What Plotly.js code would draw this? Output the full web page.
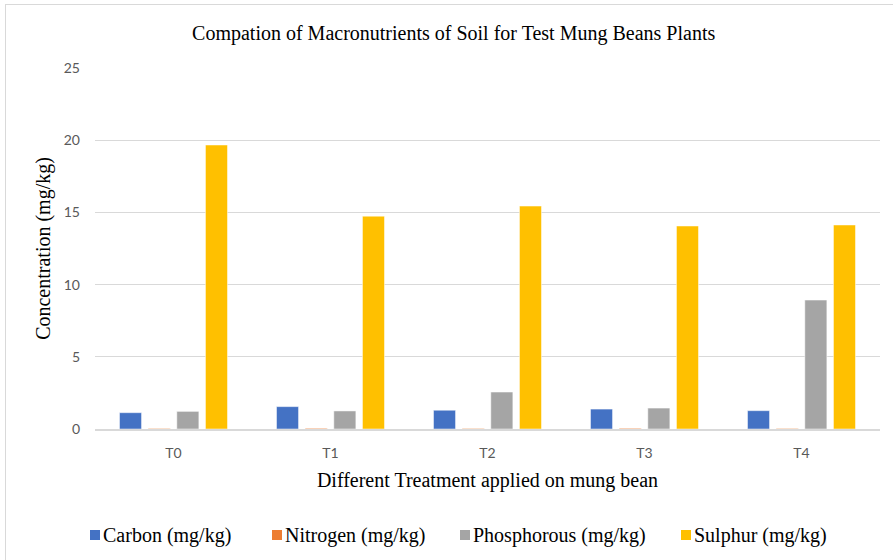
<!DOCTYPE html>
<html>
<head>
<meta charset="utf-8">
<script src="https://cdn.plot.ly/plotly-3.0.1.min.js"></script>
<style>
html,body{margin:0;padding:0;background:#fff;}
#wrap{position:relative;width:893px;height:560px;overflow:hidden;}
#frame{position:absolute;left:5px;top:4px;width:900px;height:600px;border-left:1px solid #d9d9d9;border-top:1px solid #d9d9d9;pointer-events:none;z-index:5;}
#chart{position:absolute;left:0;top:0;width:893px;height:560px;}
</style>
</head>
<body>
<div id="wrap"><div id="chart"></div><div id="frame"></div></div>
<script>
const categories = ["T0", "T1", "T2", "T3", "T4"];
const carbon = [1.13, 1.55, 1.30, 1.38, 1.27];
const nitrogen = [0.04, 0.05, 0.04, 0.05, 0.04];
const phosphorous = [1.22, 1.25, 2.56, 1.45, 8.93];
const sulphur = [19.67, 14.74, 15.44, 14.06, 14.13];
const seriesNames = ["Carbon (mg/kg)", "Nitrogen (mg/kg)", "Phosphorous (mg/kg)", "Sulphur (mg/kg)"];
const seriesColors = ["#4472c4", "#ed7d31", "#a5a5a5", "#ffc000"];
const seriesValues = [carbon, nitrogen, phosphorous, sulphur];

const serif = "Liberation Serif, Times New Roman, serif";
const sans = "Lato, Open Sans, sans-serif";

const traces = seriesValues.map((v, i) => ({
  type: "bar",
  x: categories,
  y: v,
  name: seriesNames[i],
  marker: {color: seriesColors[i], line: {color: "#ffffff", width: 0.5}},
  hoverinfo: "x+y+name"
}));

// legend drawn manually (Excel style: swatch directly before the text)
const W = 893, H = 560, ML = 95, MR = 13, MT = 68, MB = 131;
const PW = W - ML - MR, PH = H - MT - MB;
const legendLeft = [90, 272, 460, 681];   // pixel x of each swatch
const legendY = 535;                       // pixel y centre of legend row
const px2x = p => (p - ML) / PW;
const px2y = p => (H - MB - p) / PH;

const shapes = [];
const annotations = [];
seriesNames.forEach((n, i) => {
  shapes.push({type: "rect", xref: "paper", yref: "paper",
    x0: px2x(legendLeft[i]), x1: px2x(legendLeft[i] + 10),
    y0: px2y(legendY + 5), y1: px2y(legendY - 5),
    fillcolor: seriesColors[i], line: {width: 0}});
  annotations.push({xref: "paper", yref: "paper", x: px2x(legendLeft[i] + 10.5), y: px2y(legendY),
    xanchor: "left", yanchor: "middle", showarrow: false, text: n,
    font: {family: serif, size: 20, color: "#000"}});
});

const layout = {
  width: W, height: H,
  margin: {l: ML, r: MR, t: MT, b: MB},
  paper_bgcolor: "#ffffff", plot_bgcolor: "#ffffff",
  barmode: "group", bargap: 0.27, bargroupgap: 0.23,
  showlegend: false,
  title: {text: "Compation of Macronutrients of Soil for Test Mung Beans Plants",
    font: {family: serif, size: 20, color: "#000"},
    x: 0.508, xanchor: "center", y: 0.941, yanchor: "middle"},
  xaxis: {
    type: "category", automargin: false,
    showgrid: false,
    showline: true, linecolor: "#d9d9d9", linewidth: 1.5,
    ticks: "", ticklabelstandoff: 10,
    tickfont: {family: sans, size: 14, color: "#595959"},
    title: {text: "Different Treatment applied on mung bean", standoff: 13,
      font: {family: serif, size: 20, color: "#000"}}
  },
  yaxis: {
    range: [0, 25], dtick: 5, automargin: false,
    showgrid: true, gridcolor: "#d9d9d9", gridwidth: 1,
    zeroline: false, showline: false,
    ticks: "", ticklabelstandoff: 14,
    tickfont: {family: sans, size: 14, color: "#595959"},
    title: {text: "Concentration (mg/kg)", standoff: 7,
      font: {family: serif, size: 20, color: "#000"}}
  },
  shapes: shapes,
  annotations: annotations
};

Plotly.newPlot("chart", traces, layout, {displayModeBar: false});
</script>
</body>
</html>
